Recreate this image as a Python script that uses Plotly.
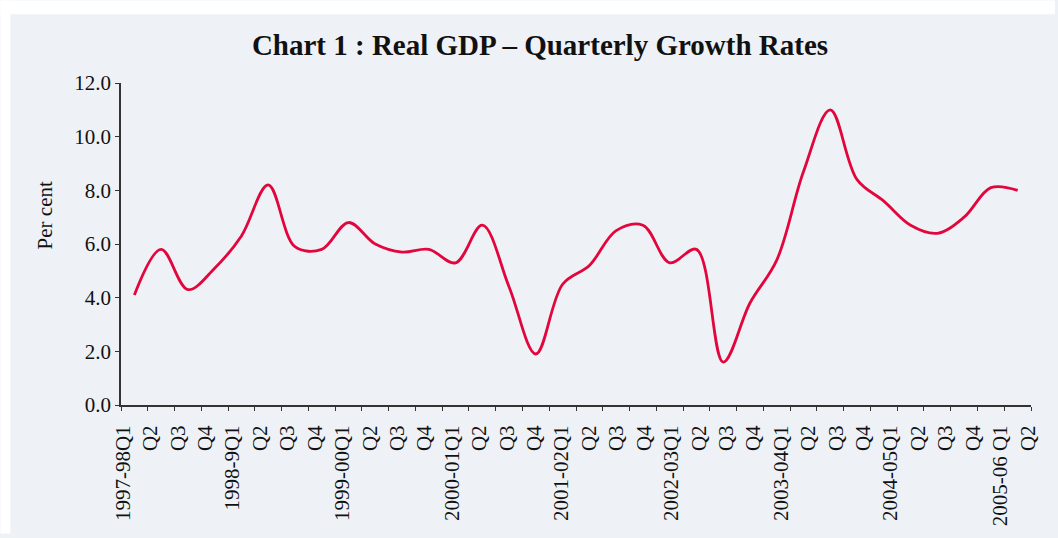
import plotly.graph_objects as go

quarters = ["1997-98Q1", "Q2", "Q3", "Q4",
            "1998-9Q1", "Q2", "Q3", "Q4",
            "1999-00Q1", "Q2", "Q3", "Q4",
            "2000-01Q1", "Q2", "Q3", "Q4",
            "2001-02Q1", "Q2", "Q3", "Q4",
            "2002-03Q1", "Q2", "Q3", "Q4",
            "2003-04Q1", "Q2", "Q3", "Q4",
            "2004-05Q1", "Q2", "Q3", "Q4",
            "2005-06 Q1", "Q2"]

growth = [4.1, 5.8, 4.3, 5.1, 6.3, 8.2, 5.9, 5.8,
          6.8, 6.0, 5.7, 5.8, 5.3, 6.7, 4.4, 1.9,
          4.5, 5.2, 6.5, 6.7, 5.3, 5.8, 1.6, 3.8,
          5.4, 8.7, 11.0, 8.4, 7.6, 6.7, 6.4, 7.0,
          8.1, 8.0]

y_ticks = [0, 2, 4, 6, 8, 10, 12]

W, H = 1058, 538
L, R_edge, T, B = 121, 1040, 83.3, 408.3
data_right = 1034
n = len(growth)
pw = R_edge - L
ph = B - T

font_family = "Liberation Serif, Times New Roman, serif"
bg = "#EEF2F6"
axis_col = "#333333"
tick_size = 21

x_idx = list(range(n))

fig = go.Figure()
fig.add_trace(go.Scatter(
    x=x_idx, y=growth, mode="lines",
    line=dict(color="#E2063C", width=2.8, shape="spline", smoothing=1.0),
    hoverinfo="x+y", showlegend=False, xaxis="x", yaxis="y"))

# label axis (labels are spaced slightly differently from tick marks)
lab_start_px = 123.0
lab_step_px = (1036.7 - 123.0) / (n - 1)
lab_range = [(L - lab_start_px) / lab_step_px, (R_edge - lab_start_px) / lab_step_px]
fig.add_trace(go.Scatter(
    x=x_idx, y=[None] * n, mode="lines", hoverinfo="skip",
    showlegend=False, xaxis="x2", yaxis="y"))

fig.update_layout(
    width=W, height=H,
    margin=dict(l=L, r=W - R_edge, t=T, b=H - B, pad=0),
    paper_bgcolor=bg, plot_bgcolor=bg,
    font=dict(family=font_family, color="#111111", size=tick_size),
    title=dict(text="Chart 1 : Real GDP – Quarterly Growth Rates",
               x=540 / W, xref="container", xanchor="center",
               y=1 - 45 / H, yref="container", yanchor="middle",
               font=dict(family=font_family, size=29, color="#111111", weight="bold")),
    xaxis=dict(domain=[0, (data_right - L) / pw], range=[-0.5, n - 0.5],
               tickvals=[i - 0.5 for i in range(n + 1)], ticktext=[""] * (n + 1),
               ticks="outside", ticklen=4, tickwidth=1.3, tickcolor=axis_col,
               showline=True, linecolor=axis_col, linewidth=1.6,
               showgrid=False, zeroline=False, fixedrange=True),
    xaxis2=dict(domain=[0, 1], range=lab_range, overlaying="x", anchor="y",
                side="bottom",
                tickvals=x_idx, ticktext=quarters, tickangle=-90,
                ticks="outside", ticklen=11, tickcolor="rgba(0,0,0,0)",
                tickfont=dict(family=font_family, size=tick_size, color="#111111"),
                showline=False, showgrid=False, zeroline=False, fixedrange=True),
    yaxis=dict(range=[0, 12], tickvals=y_ticks,
               ticktext=[f"{v:.1f}" for v in y_ticks],
               ticks="outside", ticklen=4, tickwidth=1.3, tickcolor=axis_col,
               tickfont=dict(family=font_family, size=tick_size, color="#111111"),
               showline=True, linecolor=axis_col, linewidth=1.6,
               showgrid=False, zeroline=False, fixedrange=True),
    annotations=[dict(text="Per cent", textangle=-90,
                      x=(45 - L) / pw, y=(B - 216.7) / ph,
                      xref="paper", yref="paper", xanchor="center", yanchor="middle",
                      showarrow=False,
                      font=dict(family=font_family, size=tick_size, color="#111111"))],
    shapes=[
        dict(type="rect", xref="paper", yref="paper", layer="below",
             x0=(0 - L) / pw, x1=(10 - L) / pw, y0=(B - H) / ph, y1=B / ph,
             fillcolor="white", line=dict(width=0)),
        dict(type="rect", xref="paper", yref="paper", layer="below",
             x0=(0 - L) / pw, x1=(W - L) / pw, y0=(B - 14) / ph, y1=B / ph,
             fillcolor="white", line=dict(width=0)),
    ],
)

fig.write_html("out.html",
               config={"displayModeBar": False},
               post_script=("document.body.style.margin='0';"
                            "document.body.style.padding='0';"
                            "document.documentElement.style.overflow='hidden';"
                            "document.body.style.overflow='hidden';"
                            "document.body.style.background='" + bg + "';"))
